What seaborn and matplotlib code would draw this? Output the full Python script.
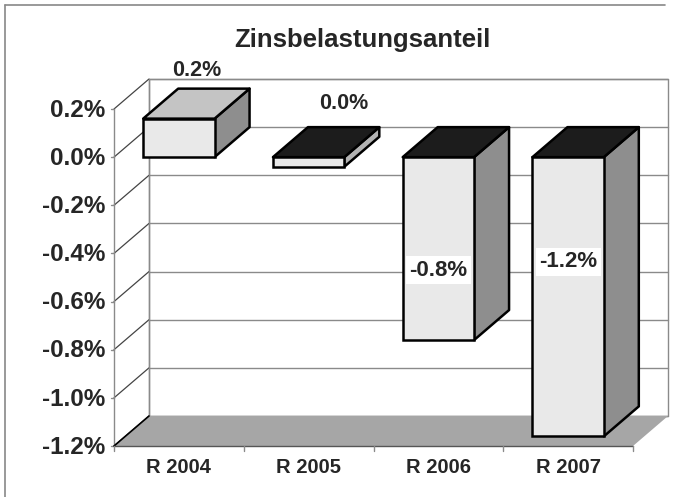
import numpy as np
import pandas as pd
import matplotlib
matplotlib.use("Agg")
import matplotlib.pyplot as plt
from matplotlib.patches import Polygon
from matplotlib.lines import Line2D
import seaborn as sns

# ---------------- data ----------------
categories = ["R 2004", "R 2005", "R 2006", "R 2007"]
values = [0.16, -0.04, -0.76, -1.16]          # percent
value_labels = ["0.2%", "0.0%", "-0.8%", "-1.2%"]
yticks = [0.2, 0.0, -0.2, -0.4, -0.6, -0.8, -1.0, -1.2]
ytick_labels = ["0.2%", "0.0%", "-0.2%", "-0.4%", "-0.6%", "-0.8%", "-1.0%", "-1.2%"]
title = "Zinsbelastungsanteil"

# ---------------- style ----------------
sns.set_theme(style="white")
plt.rcParams["font.family"] = ["Liberation Sans", "DejaVu Sans"]
plt.rcParams["font.weight"] = "bold"

W, H = 677, 497
DPI = 100
fig = plt.figure(figsize=(W / DPI, H / DPI), dpi=DPI)
fig.patch.set_facecolor("white")

# front plane of the 3-D box, in pixels
left_px, right_px, top_px, bot_px = 114, 633, 109, 446
ax = fig.add_axes([left_px / W, 1 - bot_px / H,
                   (right_px - left_px) / W, (bot_px - top_px) / H])

df = pd.DataFrame({"cat": categories, "val": values})
sns.barplot(data=df, x="cat", y="val", ax=ax, width=0.55,
            color="#e9e9e9", edgecolor="black", linewidth=1.8,
            saturation=1, zorder=5)

YMIN, YMAX = -1.2, 0.2
ax.set_xlim(-0.5, 3.5)
ax.set_ylim(YMIN, YMAX)
ax.axis("off")

# depth offset (pixels) -> data units
DX_PX, DY_PX = 35, 30
inv = ax.transData.inverted()
o = ax.transData.transform((0, 0))
p = inv.transform(o + np.array([DX_PX, DY_PX]))
ddx, ddy = p[0], p[1]

x0, x1 = -0.5, 3.5
grid_c = "#8a8a8a"

# back wall
ax.add_patch(Polygon([(x0 + ddx, YMIN + ddy), (x1 + ddx, YMIN + ddy),
                      (x1 + ddx, YMAX + ddy), (x0 + ddx, YMAX + ddy)],
                     closed=True, facecolor="white", edgecolor=grid_c,
                     lw=1.0, clip_on=False, zorder=1))
# gridlines on back wall and side wall
for yv in yticks:
    ax.add_line(Line2D([x0 + ddx, x1 + ddx], [yv + ddy, yv + ddy],
                       color=grid_c, lw=1.0, clip_on=False, zorder=1.5))
    ax.add_line(Line2D([x0, x0 + ddx], [yv, yv + ddy],
                       color="#444444", lw=0.9, clip_on=False, zorder=1.5))
    # small tick on the front axis
    ax.add_line(Line2D([x0 - 0.025, x0], [yv, yv],
                       color=grid_c, lw=1.0, clip_on=False, zorder=1.5))
# vertical edges of side wall
ax.add_line(Line2D([x0, x0], [YMIN, YMAX], color=grid_c, lw=1.0,
                   clip_on=False, zorder=1.5))
ax.add_line(Line2D([x0 + ddx, x0 + ddx], [YMIN + ddy, YMAX + ddy],
                   color=grid_c, lw=1.0, clip_on=False, zorder=1.5))

# floor
ax.add_patch(Polygon([(x0, YMIN), (x1, YMIN), (x1 + ddx, YMIN + ddy),
                      (x0 + ddx, YMIN + ddy)], closed=True,
                     facecolor="#a6a6a6", edgecolor="none",
                     clip_on=False, zorder=2))
ax.add_line(Line2D([x0, x0 + ddx], [YMIN, YMIN + ddy], color="black",
                   lw=1.2, clip_on=False, zorder=2.1))
ax.add_line(Line2D([x0, x1], [YMIN, YMIN], color="#555555",
                   lw=1.0, clip_on=False, zorder=2.1))
# category ticks
for k in range(len(categories) + 1):
    xt = x0 + k
    ax.add_line(Line2D([xt, xt], [YMIN, YMIN - 0.02], color=grid_c,
                       lw=1.0, clip_on=False, zorder=2.1))

# 3-D faces of bars from the seaborn patches
for i, bar in enumerate(ax.patches[:len(values)]):
    bx0 = bar.get_x()
    bx1 = bx0 + bar.get_width()
    v = values[i]
    top = max(0.0, v)
    bot = min(0.0, v)
    if v >= 0:
        top_c, side_c = "#c4c4c4", "#8e8e8e"
    else:
        top_c = "#1c1c1c"
        side_c = "#b2b2b2" if abs(v) < 0.1 else "#8e8e8e"
    side = Polygon([(bx1, bot), (bx1, top), (bx1 + ddx, top + ddy),
                    (bx1 + ddx, bot + ddy)], closed=True,
                   facecolor=side_c, edgecolor="black", lw=1.8,
                   joinstyle="round", zorder=4, clip_on=False)
    topf = Polygon([(bx0, top), (bx1, top), (bx1 + ddx, top + ddy),
                    (bx0 + ddx, top + ddy)], closed=True,
                   facecolor=top_c, edgecolor="black", lw=1.8,
                   joinstyle="round", zorder=4, clip_on=False)
    ax.add_patch(side)
    ax.add_patch(topf)
    bar.set_clip_on(False)

# value labels
lab_fs = 15.5
centers = [b.get_x() + b.get_width() / 2 for b in ax.patches[:len(values)]]
ax.text(centers[0] + ddx * 0.5, values[0] + ddy + 0.075, value_labels[0],
        ha="center", va="center", fontsize=lab_fs, fontweight="bold",
        zorder=8, clip_on=False)
ax.text(centers[1] + ddx, 0.0 + ddy + 0.10, value_labels[1],
        ha="center", va="center", fontsize=lab_fs, fontweight="bold",
        zorder=8, clip_on=False)
for i, ylab in ((2, -0.47), (3, -0.435)):
    ax.text(centers[i], ylab, value_labels[i], ha="center", va="center",
            fontsize=lab_fs + 0.5, fontweight="bold", zorder=8,
            bbox=dict(facecolor="white", edgecolor="none", pad=2.5))

# y tick labels
for yv, lab in zip(yticks, ytick_labels):
    ax.text(x0 - 0.07, yv - 0.005, lab, ha="right", va="center", fontsize=17.5,
            fontweight="bold", clip_on=False)
# category labels
for k, c in enumerate(categories):
    ax.text(k, YMIN - 0.09, c, ha="center", va="center", fontsize=14.5,
            fontweight="bold", clip_on=False)

# title
fig.text(362 / W, 1 - 40 / H, title, ha="center", va="center",
         fontsize=18.5, fontweight="bold")

# outer frame (left and top)
fig.add_artist(Line2D([5 / W, 5 / W], [0, 1 - 5 / H], color="#888888",
                      lw=1.2, transform=fig.transFigure))
fig.add_artist(Line2D([5 / W, 665 / W], [1 - 5 / H, 1 - 5 / H],
                      color="#888888", lw=1.2, transform=fig.transFigure))

fig.savefig("out.png", dpi=DPI, facecolor="white")
